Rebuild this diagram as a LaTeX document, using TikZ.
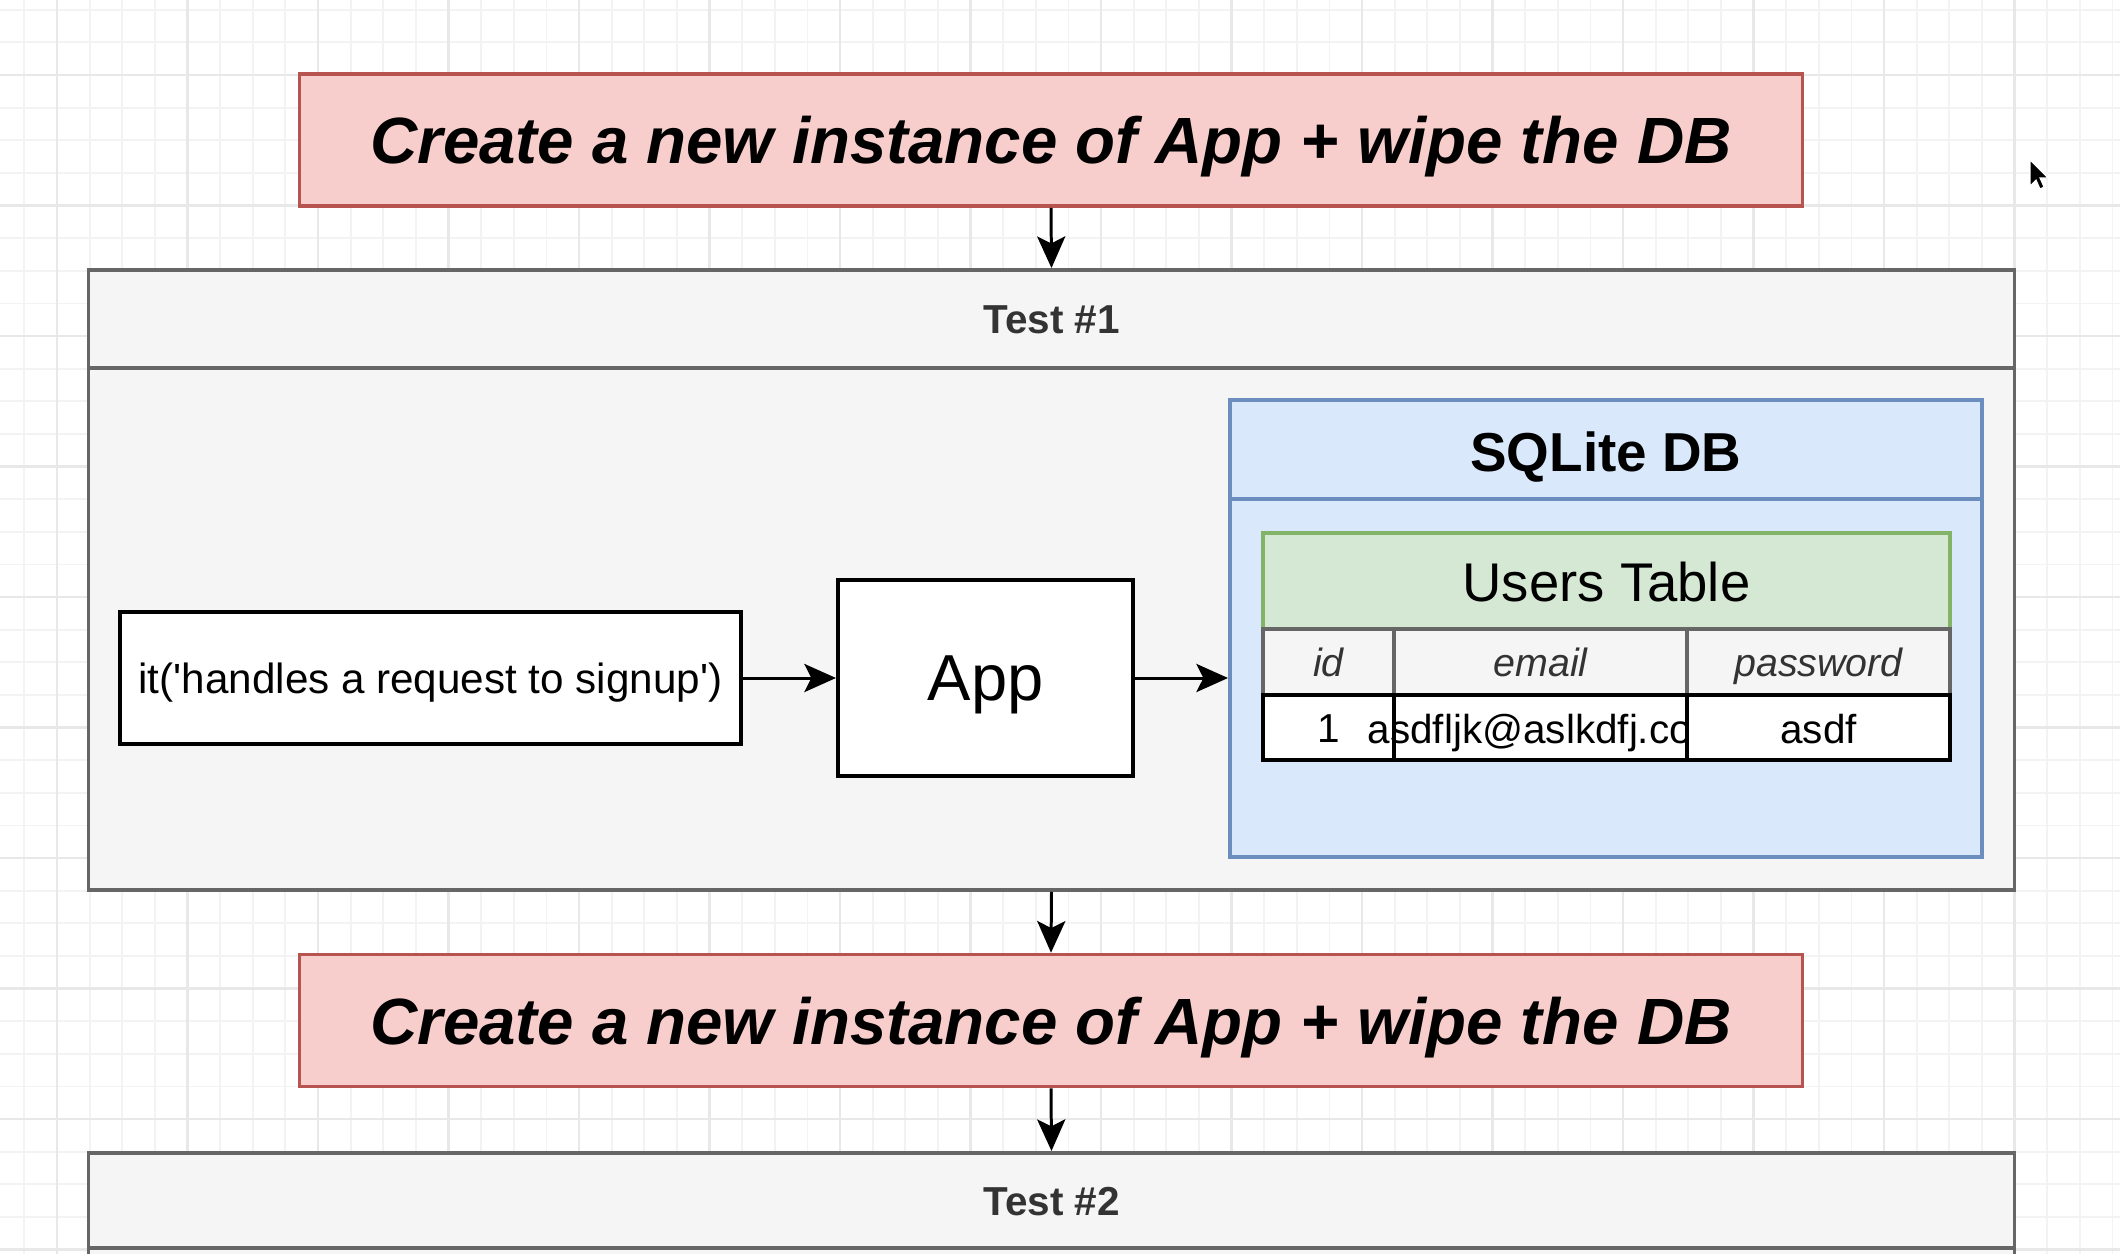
\documentclass[tikz,border=0pt]{standalone}
\usepackage{fontspec}
\setmainfont{Liberation Sans}[Ligatures=TeXOff]
\usetikzlibrary{arrows.meta}

\definecolor{wipeFill}{HTML}{F8CECC}
\definecolor{wipeLine}{HTML}{B85450}
\definecolor{testFill}{HTML}{F5F5F5}
\definecolor{testLine}{HTML}{666666}
\definecolor{dbFill}{HTML}{DAE8FC}
\definecolor{dbLine}{HTML}{6C8EBF}
\definecolor{tblFill}{HTML}{D5E8D4}
\definecolor{tblLine}{HTML}{82B366}
\definecolor{darkText}{HTML}{333333}
\definecolor{gridMinor}{HTML}{F3F3F3}
\definecolor{gridMajor}{HTML}{E8E8E8}

\newcommand{\fs}[1]{\fontsize{#1}{1.2\dimexpr#1pt\relax}\selectfont}

\begin{document}
\begin{tikzpicture}[x=0.01cm,y=-0.01cm,
    box/.style={rectangle,line width=1pt,inner sep=0pt,text depth=0pt},
    wipebox/.style={box,draw=wipeLine,fill=wipeFill,minimum width=15.02cm,minimum height=1.32cm,
        font=\fs{18.6}\bfseries\itshape},
    lanetitle/.style={font=\fs{11.5}\bfseries,text=darkText,text depth=0pt},
    plainbox/.style={box,draw=black,fill=white,line width=1.1pt},
    headcell/.style={box,draw=testLine,fill=testFill,minimum height=0.66cm,font=\fs{11.2}\itshape,text=darkText},
    rowcell/.style={box,draw=black,fill=white,line width=1.1pt,minimum height=0.65cm,font=\fs{11.5}},
    flow/.style={line width=0.85pt,-{Stealth[length=9pt,width=8pt,inset=2pt]}}]

    % Canvas and grid
    \clip (0,0) rectangle (2120,1254);
    \fill[white] (0,0) rectangle (2120,1254);
    \foreach \i in {-2,...,64}
        \draw[gridMinor,line width=0.5pt] (57+\i*32.625,0) -- (57+\i*32.625,1254);
    \foreach \i in {-2,...,38}
        \draw[gridMinor,line width=0.5pt] (0,75+\i*32.625) -- (2120,75+\i*32.625);
    \foreach \i in {0,...,16}
        \draw[gridMajor,line width=0.6pt] (57+\i*130.5,0) -- (57+\i*130.5,1254);
    \foreach \i in {-1,...,9}
        \draw[gridMajor,line width=0.6pt] (0,75+\i*130.5) -- (2120,75+\i*130.5);

    % Reset before the first test
    \node[wipebox] (wipeA) at (1051,140) {Create a new instance of App + wipe the DB};

    % Test #1 lane
    \node[box,draw=testLine,fill=testFill,minimum width=19.25cm,minimum height=6.2cm] (testA) at (1051.5,580) {};
    \draw[testLine,line width=1pt] (testA.west |- 0,368) -- (testA.east |- 0,368);
    \node[lanetitle] (testAtitle) at (1051.5,320) {Test \#1};

    % Test body: spec and app
    \node[plainbox,minimum width=6.21cm,minimum height=1.32cm,font=\fs{12}] (spec) at (430.5,678) {it('handles a request to signup')};
    \node[plainbox,minimum width=2.95cm,minimum height=1.96cm,font=\fs{18.5}] (app) at (985.5,678) {App};

    % SQLite container
    \node[box,draw=dbLine,fill=dbFill,minimum width=7.52cm,minimum height=4.57cm] (sqlite) at (1606,628.5) {};
    \draw[dbLine,line width=1pt] (sqlite.west |- 0,499) -- (sqlite.east |- 0,499);
    \node[font=\fs{15.6}\bfseries,text depth=0pt] (sqlitetitle) at (1606,452) {SQLite DB};

    % Users table
    \node[box,draw=tblLine,fill=tblFill,minimum width=6.87cm,minimum height=0.98cm,font=\fs{15.5}] (users) at (1606.5,582) {Users Table};
    \node[headcell,minimum width=1.31cm] (hid) at (1328.5,662) {id};
    \node[headcell,minimum width=2.93cm] (hemail) at (1540.5,662) {email};
    \node[headcell,minimum width=2.63cm] (hpass) at (1818.5,662) {password};
    \node[rowcell,minimum width=1.31cm] (rid) at (1328.5,727.5) {};
    \node[font=\fs{11.5},text depth=0pt] (ridtext) at (1329,729) {1};
    \node[rowcell,minimum width=2.93cm] (remail) at (1540.5,727.5) {};
    \node[font=\fs{11.5},text depth=0pt,inner sep=0pt,anchor=west] (remailtext) at (1367,729) {asdfljk@aslkdfj.com};
    \node[rowcell,minimum width=2.63cm] (rpass) at (1818.5,727.5) {};
    \node[font=\fs{11.5},text depth=0pt] (rpasstext) at (1818.5,729) {asdf};

    % Connectors
    \draw[flow] (wipeA.south) -- (testA.north);
    \draw[flow] (spec.east) -- (app.west);
    \draw[flow] (app.east) -- (app.east -| sqlite.west);

    % Reset before the second test
    \node[wipebox] (wipeB) at (1051,1020.5) {Create a new instance of App + wipe the DB};
    \draw[flow] (testA.south) -- (wipeB.north);

    % Test #2 lane (cut off at the bottom)
    \node[box,draw=testLine,fill=testFill,minimum width=19.25cm,minimum height=2.4cm,anchor=north] (testB) at (1051.5,1151) {};
    \draw[testLine,line width=1pt] (testB.west |- 0,1248) -- (testB.east |- 0,1248);
    \node[lanetitle] (testBtitle) at (1051.5,1201) {Test \#2};
    \draw[flow] (wipeB.south) -- (testB.north);

    % Mouse pointer
    \filldraw[fill=black,draw=white,line width=0.3pt] (2030,160) -- (2030,186) -- (2036,180) -- (2040,189)
        -- (2044,187) -- (2040,178) -- (2048,178) -- cycle;
\end{tikzpicture}
\end{document}
